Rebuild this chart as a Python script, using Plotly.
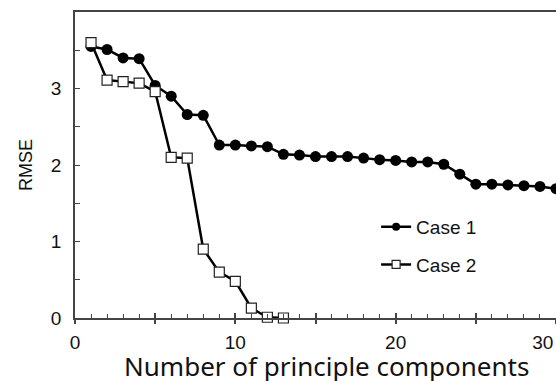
import plotly.graph_objects as go

# Data
components_case1 = list(range(1, 31))
rmse_case1 = [3.55, 3.51, 3.40, 3.39, 3.04, 2.90, 2.66, 2.65, 2.26, 2.26,
              2.25, 2.24, 2.14, 2.13, 2.11, 2.11, 2.11, 2.09, 2.07, 2.06,
              2.04, 2.04, 2.01, 1.88, 1.75, 1.75, 1.74, 1.73, 1.72, 1.69]
components_case2 = list(range(1, 14))
rmse_case2 = [3.60, 3.11, 3.09, 3.07, 2.96, 2.10, 2.09, 0.90, 0.60, 0.48,
              0.13, 0.01, 0.0]

series_names = ["Case 1", "Case 2"]
x_tickvals = [0, 5, 10, 15, 20, 25, 30]
x_ticktext = ["0", "", "10", "", "20", "", "30\u00a0\u00a0\u00a0\u00a0\u00a0"]
y_tickvals = [0, 1, 2, 3]
y_ticktext = ["0", "1", "2", "3"]

axis_color = "#444444"
tick_font = dict(family="Liberation Sans, Arial, sans-serif", size=19, color="#111111")

fig = go.Figure()

fig.add_trace(go.Scatter(
    x=components_case1, y=rmse_case1, mode="lines+markers", name=series_names[0],
    line=dict(color="black", width=2.5),
    marker=dict(symbol="circle", size=11, color="black"),
    cliponaxis=False, showlegend=False,
))
fig.add_trace(go.Scatter(
    x=components_case2, y=rmse_case2, mode="lines+markers", name=series_names[1],
    line=dict(color="black", width=2.5),
    marker=dict(symbol="square", size=10, color="white",
                line=dict(color="#222222", width=1.2)),
    cliponaxis=False, showlegend=False,
))

# legend entries (no data, smaller markers like the reference legend)
fig.add_trace(go.Scatter(
    x=[None], y=[None], mode="lines+markers", name=series_names[0],
    line=dict(color="black", width=2.5),
    marker=dict(symbol="circle", size=8, color="black"),
    xaxis="x2", legendgroup="a",
))
fig.add_trace(go.Scatter(
    x=[None], y=[None], mode="lines+markers", name=series_names[1],
    line=dict(color="black", width=2.5),
    marker=dict(symbol="square", size=8, color="white",
                line=dict(color="#222222", width=1.2)),
    xaxis="x2", legendgroup="b",
))

fig.update_layout(
    width=556, height=381,
    margin=dict(l=75, r=0, t=12, b=63, autoexpand=False),
    paper_bgcolor="white", plot_bgcolor="white",
    showlegend=True,
    legend=dict(
        x=0.626, y=0.36, xanchor="left", yanchor="top",
        font=dict(family="Liberation Sans, Arial, sans-serif", size=19, color="#111111"),
        bgcolor="rgba(0,0,0,0)", tracegroupgap=10,
    ),
    xaxis=dict(
        range=[0, 30], showgrid=False, zeroline=False, automargin=False,
        showline=True, linecolor=axis_color, linewidth=1.5, mirror=True,
        ticks="inside", ticklen=5, tickcolor=axis_color, tickwidth=1.5,
        tickvals=x_tickvals, ticktext=x_ticktext,
        tickfont=tick_font, ticklabelstandoff=6, ticklabeloverflow="allow",
        minor=dict(ticks="inside", ticklen=4, dtick=1, tickcolor=axis_color,
                   tickwidth=1, showgrid=False),
    ),
    xaxis2=dict(
        matches="x", overlaying="x", anchor="y", showgrid=False, zeroline=False,
        showline=False, ticks="outside", ticklen=5, tickcolor=axis_color, tickwidth=1.5,
        tickvals=x_tickvals, showticklabels=False, automargin=False,
    ),
    yaxis=dict(
        range=[0, 4], showgrid=False, zeroline=False, automargin=False,
        showline=True, linecolor=axis_color, linewidth=1.5,
        ticks="inside", ticklen=5, tickcolor=axis_color, tickwidth=1.2,
        tickvals=y_tickvals, ticktext=y_ticktext,
        tickfont=tick_font, ticklabelstandoff=8,
        minor=dict(ticks="inside", ticklen=5, dtick=0.5, tickcolor=axis_color,
                   tickwidth=1.2, showgrid=False),
        title=dict(text="RMSE", font=dict(family="Liberation Sans, Arial, sans-serif",
                                          size=18, color="#111111"), standoff=14),
    ),
    annotations=[dict(
        text="Number of principle components", xref="paper", yref="paper",
        x=0.522, y=-0.157, xanchor="center", yanchor="middle", showarrow=False,
        font=dict(family="Noto Sans, sans-serif", size=26, color="#111111"),
    )],
)

fig.write_html(
    "out.html",
    config={"displayModeBar": False},
    post_script="document.body.style.margin='0';document.body.style.overflow='hidden';",
)
